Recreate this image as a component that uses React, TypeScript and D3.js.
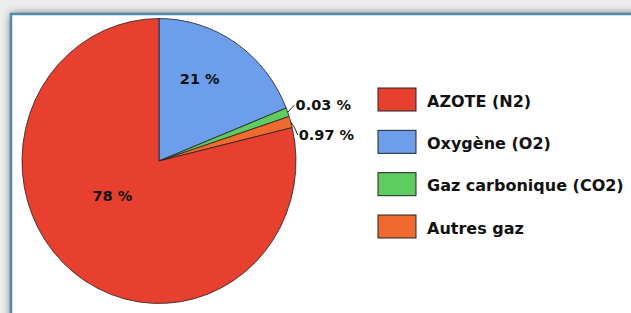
import * as d3 from "d3";
import {useEffect, useRef} from "react";

// categories in legend order
const categories = ["AZOTE (N2)", "Oxygène (O2)", "Gaz carbonique (CO2)", "Autres gaz"]
// share of each slice as drawn in the picture
const sliceValues = [79, 19, 1, 1.3]
// the percent labels printed on the chart
const percentLabels = ["78 %", "21 %", "0.03 %", "0.97 %"]
const colors = ["#e8402f", "#6d9eec", "#5fcc5f", "#ee6a2e"]
// drawing order round the pie, clockwise from 12 o'clock
const pieOrder = [1, 2, 3, 0]

const W = 631
const H = 313

const useD3 = (renderChartFn, dependencies) => {
    const ref = useRef(null);
    useEffect(() => {
        renderChartFn(d3.select(ref.current));
        return () => {};
    }, dependencies);
    return ref;
}

const App = () => {
    const ref = useD3((svg) => {
        svg.selectAll("*").remove()

        const defs = svg.append("defs")
        const shadow = defs.append("filter").attr("id", "shadow")
            .attr("x", "-10%").attr("y", "-10%").attr("width", "120%").attr("height", "120%")
        shadow.append("feGaussianBlur").attr("in", "SourceAlpha").attr("stdDeviation", 5)
        shadow.append("feComponentTransfer").append("feFuncA").attr("type", "linear").attr("slope", 0.6)

        // page background and framed panel
        svg.append("rect").attr("width", W).attr("height", H).attr("fill", "#ededed")
        svg.append("rect").attr("x", 11).attr("y", 14).attr("width", W + 40).attr("height", H + 40)
            .attr("fill", "#000").attr("filter", "url(#shadow)")
        svg.append("rect").attr("x", 11).attr("y", 14).attr("width", W + 40).attr("height", H + 40)
            .attr("fill", "#fff").attr("stroke", "#4a8fa9").attr("stroke-width", 2.5)

        const cx = 159, cy = 161, r = 137, sy = 1.04

        const data = pieOrder.map(i => ({i, value: sliceValues[i]}))
        const pie = d3.pie().sort(null).value(d => d.value)
        const arcs = pie(data)
        const arc = d3.arc().innerRadius(0).outerRadius(r)

        const g = svg.append("g").attr("transform", `translate(${cx},${cy}) scale(1,${sy})`)
        g.selectAll("path")
            .data(arcs)
            .enter()
            .append("path")
            .attr("d", arc)
            .attr("fill", d => colors[d.data.i])
            .attr("stroke", "#222")
            .attr("stroke-width", 0.8)
            .attr("stroke-linejoin", "round")

        const font = "'DejaVu Sans', sans-serif"
        const big = arcs.filter(d => d.endAngle - d.startAngle > 0.3)
        const small = arcs.filter(d => d.endAngle - d.startAngle <= 0.3)

        const toXY = (angle, rad) => [cx + Math.sin(angle) * rad, cy - Math.cos(angle) * rad * sy]

        big.forEach(d => {
            const wide = d.endAngle - d.startAngle > Math.PI
            const mid = wide ? (d.startAngle + d.endAngle) / 2 + 0.28 : (d.startAngle + d.endAngle) / 2 - 0.12
            const [x, y] = toXY(mid, r * (wide ? 0.42 : 0.65))
            svg.append("text")
                .attr("x", x).attr("y", y)
                .attr("text-anchor", "middle").attr("dominant-baseline", "central")
                .attr("font-family", font).attr("font-weight", "bold").attr("font-size", 14.5)
                .attr("fill", "#111")
                .text(percentLabels[d.data.i])
        })

        // small outside labels, spread apart vertically
        const pts = small.map(d => {
            const mid = (d.startAngle + d.endAngle) / 2
            return {d, p0: toXY(mid, r), p1: toXY(mid, r * 1.03)}
        })
        const meanY = d3.mean(pts, p => p.p0[1])
        const gap = 30
        pts.forEach((p, k) => {
            const ty = meanY + (k - (pts.length - 1) / 2) * gap + 3
            const tx = p.p1[0] + 4
            svg.append("path")
                .attr("d", d3.line()([p.p0, [p.p1[0], (p.p1[1] + ty) / 2], [tx - 1, ty]]))
                .attr("fill", "none").attr("stroke", "#222").attr("stroke-width", 1)
            svg.append("text")
                .attr("x", tx).attr("y", ty)
                .attr("dominant-baseline", "central")
                .attr("font-family", font).attr("font-weight", "bold").attr("font-size", 14.5)
                .attr("fill", "#111")
                .text(percentLabels[p.d.data.i])
        })

        // legend
        const ly = d3.scalePoint().domain(categories).range([88, 215])
        const leg = svg.append("g")
        categories.forEach((c, i) => {
            leg.append("rect")
                .attr("x", 378).attr("y", ly(c)).attr("width", 38).attr("height", 23)
                .attr("fill", colors[i]).attr("stroke", "#222").attr("stroke-width", 1)
            leg.append("text")
                .attr("x", 427).attr("y", ly(c) + 13)
                .attr("dominant-baseline", "central")
                .attr("font-family", font).attr("font-weight", "bold").attr("font-size", 16)
                .attr("fill", "#111")
                .text(c)
        })
    }, [])

    return (
        <svg
            ref={ref}
            width={W}
            height={H}
            style={{position: "absolute", left: 0, top: 0}}>
        </svg>
    )
}

export default App;
